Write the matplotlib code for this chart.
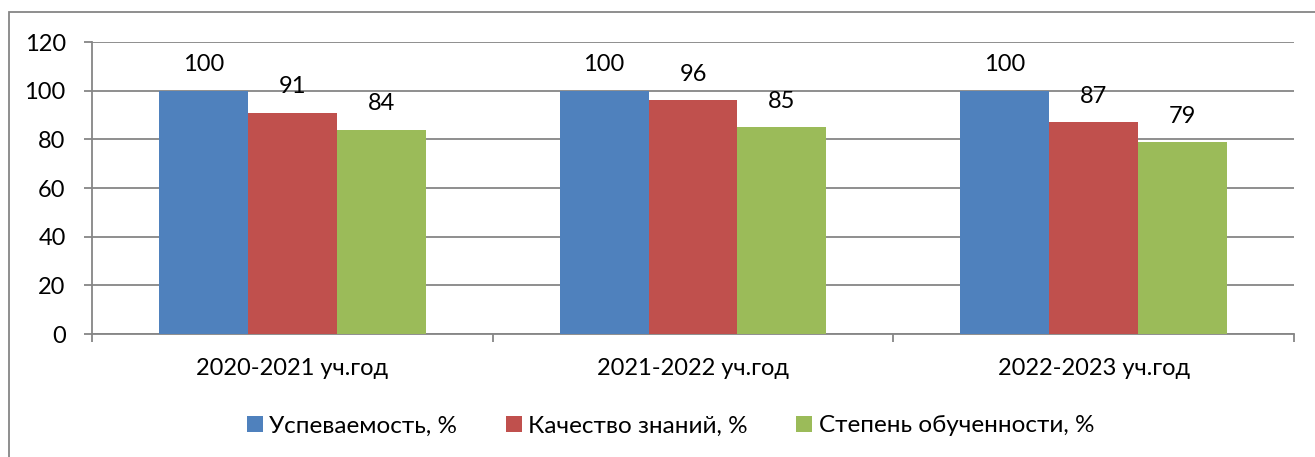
import numpy as np
import matplotlib
matplotlib.use('Agg')
from matplotlib import pyplot as plt
import matplotlib as mpl

plt.rcParams['font.family'] = ['Lato', 'DejaVu Sans']

categories = ['2020-2021 уч.год', '2021-2022 уч.год', '2022-2023 уч.год']
series_names = ['Успеваемость, %', 'Качество знаний, %', 'Степень обученности, %']
uspev = [100, 100, 100]
kachestvo = [91, 96, 87]
obuch = [84, 85, 79]
colors = ['#4F81BD', '#C0504D', '#9BBB59']

fs = 17

fig = plt.figure(figsize=(13.15, 4.57), dpi=100)
ax = fig.add_axes([0.070, 0.269, 0.914, 0.639])

x = np.arange(len(categories))
w = 0.222
for i, (vals, name, col) in enumerate(zip([uspev, kachestvo, obuch], series_names, colors)):
    bars = ax.bar(x + (i - 1) * w, vals, width=w, color=col, label=name, zorder=3)
    for b, v in zip(bars, vals):
        ax.annotate(str(v), (b.get_x() + b.get_width() / 2, v), xytext=(0, 11),
                    textcoords='offset points', ha='center', va='bottom', fontsize=fs)

ax.set_xlim(-0.5, 2.5)
ax.set_ylim(0, 120)
ax.set_yticks(range(0, 121, 20))
ax.yaxis.grid(True, color='#868686', lw=1.3, zorder=0)
ax.set_xticks(x)
ax.set_xticklabels(categories)
ax.set_xticks([-0.5, 0.5, 1.5, 2.5], minor=True)
ax.tick_params(axis='x', which='major', length=0, pad=17, labelsize=fs)
ax.tick_params(axis='x', which='minor', length=6, width=1.3, color='#868686', direction='out')
ax.tick_params(axis='y', length=6, width=1.3, color='#868686', pad=13, labelsize=fs)

for s in ['top', 'right']:
    ax.spines[s].set_visible(False)
for s in ['left', 'bottom']:
    ax.spines[s].set_color('#868686')
    ax.spines[s].set_linewidth(1.3)

# outer chart border
border = mpl.patches.Rectangle((9 / 1315, -0.05), 1.1, 0.05 + 1 - 12 / 457,
                               transform=fig.transFigure, fill=False,
                               edgecolor='#868686', lw=1.3)
fig.patches.append(border)

fig.legend(loc='center', bbox_to_anchor=(0.51, 0.068), ncol=3, frameon=False,
           fontsize=17.5, handlelength=0.66, handleheight=0.66, handletextpad=0.25,
           columnspacing=2.0)

fig.savefig('out.png', dpi=100)
